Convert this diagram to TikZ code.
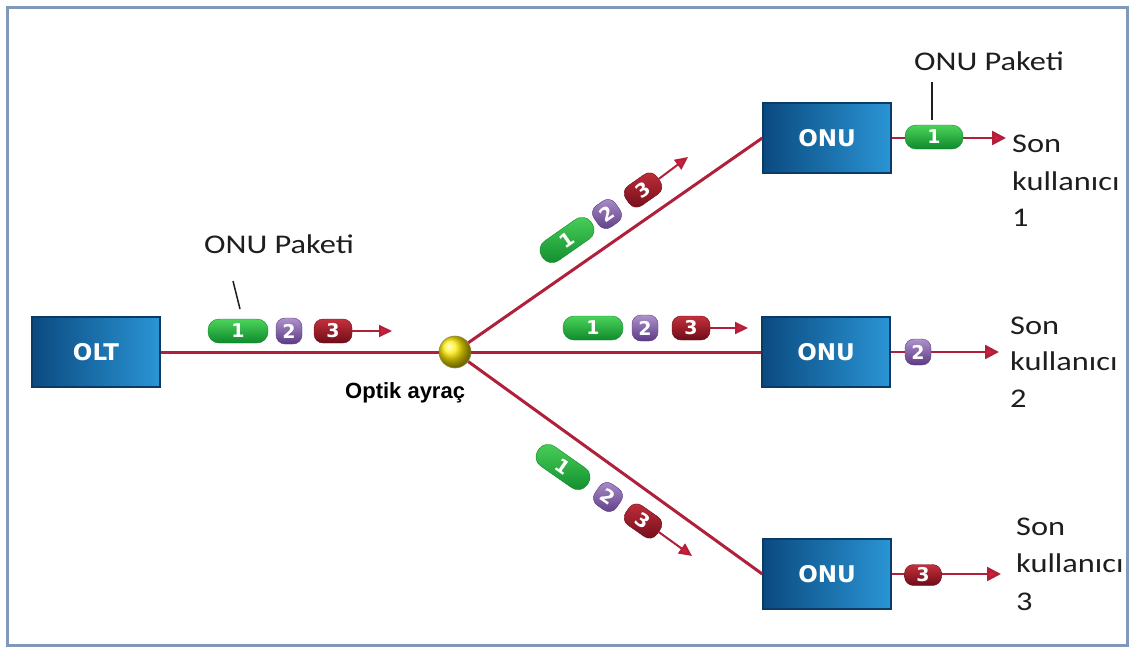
\documentclass[tikz,border=0pt]{standalone}
\usepackage{fontspec}
\setmainfont{Carlito}
\newfontfamily\lblfont[FakeStretch=1.2]{Carlito}
\newfontfamily\boxfont{DejaVu Sans}
\newfontfamily\arialfont{Liberation Sans}
\usetikzlibrary{arrows.meta}
\definecolor{fiber}{HTML}{B0203A}
\definecolor{tipred}{HTML}{D01E3A}
\definecolor{boxdark}{HTML}{0B4A80}
\definecolor{boxlight}{HTML}{2A95D5}
\definecolor{boxedge}{HTML}{0A3A66}
\definecolor{glight}{HTML}{4CD35A}
\definecolor{gdark}{HTML}{0E8A2C}
\definecolor{plight}{HTML}{AE92CC}
\definecolor{pdark}{HTML}{5B3A83}
\definecolor{rlight}{HTML}{C4303C}
\definecolor{rdark}{HTML}{6E0C18}
\definecolor{framec}{HTML}{8098BA}
\definecolor{txt}{HTML}{1E1E1E}
\tikzset{
  fiber/.style={draw=fiber, line width=3pt},
  unit/.style={draw=boxedge, line width=1.5pt, left color=boxdark, right color=boxlight,
    minimum width=128pt, minimum height=70pt, text=white,
    font=\boxfont\bfseries\fontsize{23}{23}\selectfont},
  pk/.style={rounded corners=11pt, minimum height=24pt, inner sep=0pt, text=white,
    font=\boxfont\bfseries\fontsize{19}{19}\selectfont},
  pkg/.style={pk, draw=gdark, top color=glight, bottom color=gdark, minimum width=60pt},
  pkp/.style={pk, draw=pdark, top color=plight, bottom color=pdark, minimum width=26pt, minimum height=26pt, rounded corners=9pt},
  pkr/.style={pk, draw=rdark, top color=rlight, bottom color=rdark, minimum width=38pt, rounded corners=9pt},
  pkarrow/.style={draw=fiber, line width=2pt, -{Triangle[length=13pt,width=12pt,fill=tipred]}},
  outarrow/.style={draw=fiber, line width=2.5pt, -{Triangle[length=14pt,width=14pt,fill=tipred]}},
  lbl/.style={font=\lblfont\fontsize{27}{27}\selectfont, text=txt, inner sep=0pt},
  tick/.style={draw=txt, line width=1.5pt},
}
\begin{document}
\begin{tikzpicture}[x=1pt,y=-1pt]
\useasboundingbox (0,0) rectangle (1134,651);
\draw[framec, line width=3pt] (7,7) rectangle (1127,645);

% boxes
\node[unit] (olt) at (96,352) {OLT};
\node[unit] (onu1) at (827,138) {ONU};
\node[unit] (onu2) at (826,352) {ONU};
\node[unit] (onu3) at (827,574) {ONU};
\node[circle, minimum size=32pt, inner sep=0pt, shading=ball, ball color=yellow!85!orange, draw=yellow!50!black, line width=0.6pt] (split) at (455,352) {};

% end coordinates
\coordinate (u1tip) at (1006,138);
\coordinate (u2tip) at (999,352);
\coordinate (u3tip) at (1001,574);

% fibers
\draw[fiber] (olt) -- (split);
\draw[fiber] (split) -- (onu1.west);
\draw[fiber] (split) -- (onu2.west);
\draw[fiber] (split) -- (onu3.west);
\draw[outarrow] (onu1.east) -- (u1tip);
\draw[outarrow] (onu2.east) -- (u2tip);
\draw[outarrow] (onu3.east) -- (u3tip);

% main packets
\node[pkg] (m1) at (238,331) {1};
\node[pkp] (m2) at (289,331) {2};
\node[pkr] (m3) at (333,331) {3};
\coordinate (mtip) at (392,331);
\draw[pkarrow] (m3.east) -- (mtip);

% middle branch packets
\node[pkg] (c1) at (593,328) {1};
\node[pkp] (c2) at (645,328) {2};
\node[pkr] (c3) at (691,328) {3};
\coordinate (ctip) at (748,328);
\draw[pkarrow] (c3.east) -- (ctip);

% upper branch packets
\node[pkg, rotate=35] (a1) at (567,240) {1};
\node[pkp, rotate=35] (a2) at (607,214) {2};
\node[pkr, rotate=35] (a3) at (643,190) {3};
\coordinate (atip) at (688,157);
\draw[pkarrow] (a3.east) -- (atip);

% lower branch packets
\node[pkg, rotate=-35] (b1) at (563,467) {1};
\node[pkp, rotate=-35] (b2) at (608,497) {2};
\node[pkr, rotate=-35] (b3) at (643,521) {3};
\coordinate (btip) at (692,556);
\draw[pkarrow] (b3.east) -- (btip);

% output packets
\node[pkg, minimum width=58pt] (o1) at (934,137) {1};
\node[pkp] (o2) at (918,352) {2};
\node[pkr, minimum width=37pt, minimum height=21pt] (o3) at (923,575) {3};

% labels
\node[lbl, anchor=base] (pk1) at (279,253) {ONU Paketi};
\draw[tick] (233,281) -- (240,309);
\node[lbl, anchor=base] (pk2) at (989,70) {ONU Paketi};
\draw[tick] (932,82) -- (932,120);

\node[font=\arialfont\bfseries\fontsize{22}{22}\selectfont, inner sep=0pt, anchor=base west] (opt) at (345,398) {Optik ayraç};

\node[lbl, anchor=base west] (s1a) at (1012,152) {Son};
\node[lbl, anchor=base west] (s1b) at (1012,190) {kullanıcı};
\node[lbl, anchor=base west] (s1c) at (1012,226) {1};

\node[lbl, anchor=base west] (s2a) at (1010,334) {Son};
\node[lbl, anchor=base west] (s2b) at (1010,370) {kullanıcı};
\node[lbl, anchor=base west] (s2c) at (1010,407) {2};

\node[lbl, anchor=base west] (s3a) at (1016,535) {Son};
\node[lbl, anchor=base west] (s3b) at (1016,572) {kullanıcı};
\node[lbl, anchor=base west] (s3c) at (1016,610) {3};
\end{tikzpicture}
\end{document}
